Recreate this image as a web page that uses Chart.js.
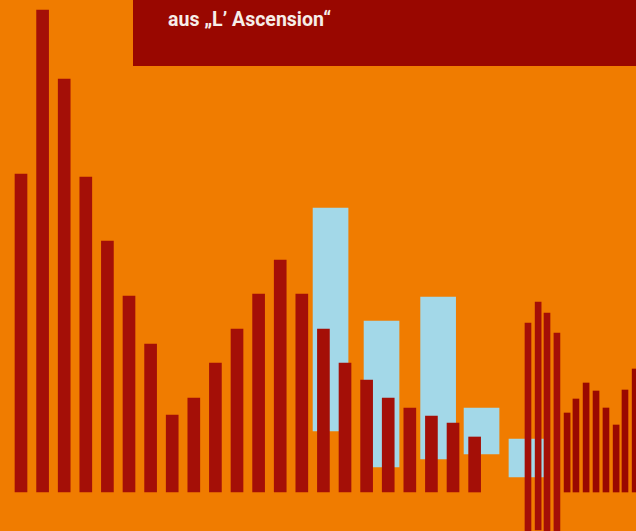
<!DOCTYPE html>
<html>
<head>
<meta charset="utf-8">
<script src="https://cdn.jsdelivr.net/npm/chart.js@4"></script>
<style>
  html, body { margin: 0; padding: 0; background: #F07C00; overflow: hidden; }
  #wrap { position: relative; width: 636px; height: 531px; }
  #box {
    position: absolute; left: 133px; top: 0; width: 503px; height: 66px;
    background: #990700;
  }
  #title {
    position: absolute; left: 168px; top: 6px;
    color: #F6EDE8; font-family: Roboto, "Liberation Sans", sans-serif;
    font-weight: bold; font-size: 21px; line-height: 26px; white-space: nowrap;
    transform: scaleX(0.93); transform-origin: left top;
  }
</style>
</head>
<body>
<div id="wrap">
  <canvas id="Bars" width="636" height="531"></canvas>
  <div id="box"></div>
  <div id="title">aus „L’ Ascension“</div>
</div>
<script>
// main melody bars, one per slot
const mainValues = [318, 482, 413, 315, 251, 196, 148, 77, 94, 129, 163,
                    198, 232, 198, 163, 129, 112, 94, 84, 76, 69, 55];

// light blue floating blocks: slot position, [low, high]
const blockSlots = [14.33, 16.69, 19.31, 21.32, 23.40];
const blockRanges = [[61, 284], [25, 171], [33, 195], [38, 84], [15, 53]];

// thin bars that drop below the baseline
const dropSlots = [23.47, 23.94, 24.35, 24.81];
const dropRanges = [[-45, 169], [-38, 190], [-45, 179], [-45, 159]];

// short thin bars at the right
const tailSlots = [25.28, 25.69, 26.16, 26.62, 27.08, 27.55, 27.96, 28.43];
const tailValues = [79, 93, 109, 101, 84, 67, 102, 123];

const ctx = document.getElementById('Bars');
const myChart = new Chart(ctx, {
    type: 'bar',
    data: {
        datasets: [{
            data: mainValues.map((v, i) => ({x: i, y: v})),
            backgroundColor: '#A40F07',
            barThickness: 12,
            order: 0
        }, {
            data: dropSlots.map((s, i) => ({x: s, y: dropRanges[i]})),
            backgroundColor: '#A40F07',
            barThickness: 6,
            order: 0
        }, {
            data: tailSlots.map((s, i) => ({x: s, y: tailValues[i]})),
            backgroundColor: '#9A0900',
            barThickness: 6,
            order: 0
        }, {
            data: blockSlots.map((s, i) => ({x: s, y: blockRanges[i]})),
            backgroundColor: '#A3D8E8',
            barThickness: 35,
            order: 1
        }]
    },
    options: {
        responsive: false,
        animation: false,
        devicePixelRatio: 1,
        layout: { padding: 0 },
        datasets: { bar: { grouped: false, borderWidth: 0 } },
        scales: {
            x: { type: 'linear', display: false, offset: false, min: -0.972, max: 28.47 },
            y: { display: false, min: -39, max: 492 }
        },
        plugins: {
            legend: { display: false },
            tooltip: { enabled: false }
        }
    }
});
</script>
</body>
</html>
